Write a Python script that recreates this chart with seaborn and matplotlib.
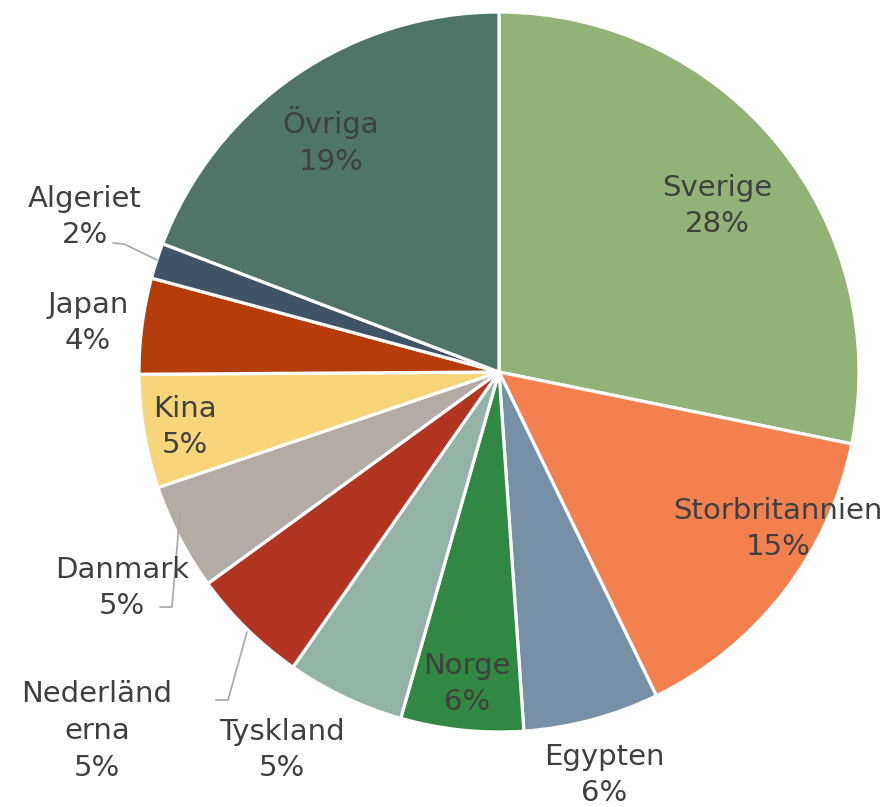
import seaborn as sns
import matplotlib.pyplot as plt

sns.set_theme(style="white")
plt.rcParams['font.family'] = ['DejaVu Sans']

# andel per land, medurs från klockan tolv
countries = ["Sverige", "Storbritannien", "Egypten", "Norge", "Tyskland",
             "Nederländerna", "Danmark", "Kina", "Japan", "Algeriet", "Övriga"]
shares = [28.2, 14.6, 6.1, 5.5, 5.3, 5.3, 4.8, 5.1, 4.3, 1.6, 19.2]
label_names = ["Sverige", "Storbritannien", "Egypten", "Norge", "Tyskland",
               "Nederländ\nerna", "Danmark", "Kina", "Japan", "Algeriet", "Övriga"]
colors = ["#93B277", "#F38150", "#7890A6", "#318843", "#93B3A7",
          "#B13520", "#B3ACA4", "#F6D57B", "#B53D0B", "#415466", "#4E7567"]

W, H = 888, 807
# label centers in pixel coords (x, y from top)
label_pos = [(717, 206), (778, 529), (604, 775), (467, 684), (282, 750),
             (97, 731), (122, 588), (185, 427), (88, 323), (85, 217), (331, 141)]
leaders = {
    "Algeriet": [(113, 243), (124, 244), (157, 260)],
    "Danmark": [(160, 607), (172, 607), (180, 512)],
    "Nederländerna": [(216, 700), (228, 700), (247, 632)],
}

fig = plt.figure(figsize=(W / 100, H / 100), dpi=100)
ax = fig.add_axes([0, 0, 1, 1])

ax.pie(shares, colors=sns.color_palette(colors), startangle=90, counterclock=False,
       center=(499, H - 372), radius=360,
       wedgeprops=dict(edgecolor="white", linewidth=2.3))

# pie() resets the limits, so set them afterwards
ax.set_xlim(0, W)
ax.set_ylim(0, H)
ax.set_aspect('equal')
ax.axis('off')

for name, lab, val, (x, y) in zip(countries, label_names, shares, label_pos):
    ax.text(x, H - y, f"{lab}\n{round(val)}%", ha="center", va="center",
            fontsize=21, color="#404040", linespacing=1.4)

for pts in leaders.values():
    ax.plot([p[0] for p in pts], [H - p[1] for p in pts], color="#A6A6A6", lw=1.2)

plt.savefig("out.png", dpi=100)
